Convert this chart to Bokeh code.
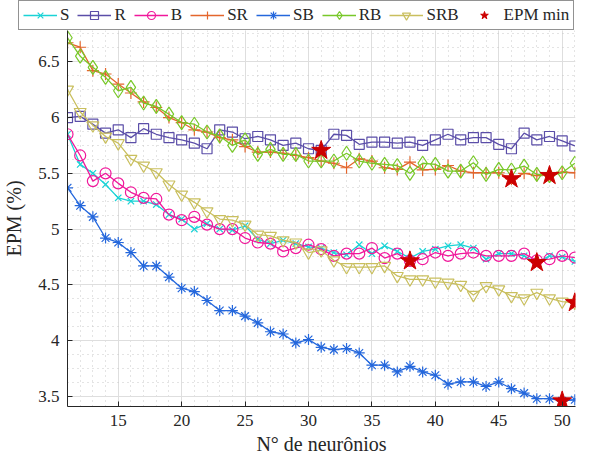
import numpy as np
from bokeh.plotting import figure
from bokeh.models import (Legend, LegendItem, SingleIntervalTicker, CustomJSTickFormatter, Range1d)
from bokeh.embed import file_html
from bokeh.resources import INLINE

neurons = list(range(11, 52))

S = [5.85, 5.58, 5.50, 5.40, 5.28, 5.25, 5.25, 5.22, 5.13, 5.09,
     5.00, 5.05, 5.00, 4.99, 5.03, 4.91, 4.87, 4.90, 4.87, 4.84,
     4.83, 4.79, 4.77, 4.86, 4.78, 4.85, 4.80, 4.74, 4.80, 4.82,
     4.85, 4.86, 4.83, 4.73, 4.78, 4.78, 4.76, 4.70, 4.76, 4.75, 4.71]
R = [6.00, 6.01, 5.94, 5.86, 5.89, 5.82, 5.90, 5.85, 5.82, 5.80,
     5.77, 5.72, 5.89, 5.87, 5.81, 5.83, 5.80, 5.75, 5.77, 5.72,
     5.705, 5.85, 5.84, 5.76, 5.78, 5.78, 5.77, 5.78, 5.75, 5.80,
     5.85, 5.80, 5.82, 5.82, 5.76, 5.72, 5.86, 5.80, 5.83, 5.79, 5.745]
B = [5.85, 5.66, 5.43, 5.50, 5.41, 5.33, 5.28, 5.27, 5.13, 5.08,
     5.11, 5.04, 5.00, 5.00, 4.92, 4.88, 4.87, 4.80, 4.83, 4.86,
     4.82, 4.76, 4.78, 4.78, 4.83, 4.74, 4.78, 4.715, 4.73, 4.79,
     4.76, 4.78, 4.79, 4.76, 4.76, 4.76, 4.78, 4.72, 4.73, 4.76, 4.745]
SR = [6.67, 6.63, 6.42, 6.39, 6.30, 6.22, 6.14, 6.09, 6.00, 5.955,
      5.89, 5.87, 5.82, 5.80, 5.74, 5.69, 5.69, 5.68, 5.66, 5.64,
      5.61, 5.59, 5.55, 5.63, 5.61, 5.55, 5.535, 5.60, 5.53, 5.535,
      5.57, 5.52, 5.505, 5.505, 5.505, 5.45, 5.50, 5.48, 5.49, 5.51, 5.505]
SB = [5.37, 5.21, 5.11, 4.92, 4.88, 4.79, 4.67, 4.67, 4.57, 4.47,
      4.44, 4.36, 4.27, 4.27, 4.22, 4.16, 4.08, 4.06, 3.98, 4.01,
      3.94, 3.92, 3.93, 3.89, 3.78, 3.78, 3.72, 3.77, 3.72, 3.69,
      3.61, 3.63, 3.63, 3.59, 3.63, 3.57, 3.53, 3.48, 3.48, 3.46, 3.47]
RB = [6.715, 6.55, 6.45, 6.36, 6.24, 6.27, 6.13, 6.10, 6.03, 5.955,
      5.94, 5.87, 5.835, 5.75, 5.80, 5.67, 5.715, 5.67, 5.67, 5.61,
      5.61, 5.61, 5.68, 5.61, 5.59, 5.58, 5.57, 5.50, 5.59, 5.58,
      5.52, 5.52, 5.595, 5.49, 5.535, 5.53, 5.565, 5.49, 5.48, 5.505, 5.59]
SRB = [6.25, 6.05, 5.93, 5.83, 5.77, 5.63, 5.57, 5.51, 5.40, 5.31,
       5.24, 5.16, 5.09, 5.08, 5.04, 4.95, 4.94, 4.90, 4.88, 4.79,
       4.81, 4.72, 4.66, 4.66, 4.66, 4.67, 4.58, 4.55, 4.55, 4.53,
       4.52, 4.50, 4.41, 4.49, 4.46, 4.40, 4.38, 4.43, 4.38, 4.35, 4.34]

series_names = ["S", "R", "B", "SR", "SB", "RB", "SRB"]
series_values = [S, R, B, SR, SB, RB, SRB]
colors = ["#1ad3d6", "#5b4ea8", "#f0189b", "#e4662c", "#2467dc", "#78c829", "#c9bf5e"]
markers = ["x", "square", "circle", "cross", "asterisk", "diamond", "inverted_triangle"]
msizes = [9, 10, 11, 12, 11, 14, 12]
star_label = "EPM min"

x_ticks_step = 5
y_ticks_step = 0.5

FONT = "Liberation Serif"
TXT = "#262626"
STAR = "#cc0000"

W = 577
LEG_H = 30
MAIN_H = 457 - LEG_H
LEFT = 62

# minima of each series
star_x = []
star_y = []
for vals in series_values:
    i = int(np.argmin(vals))
    star_x.append(neurons[i])
    star_y.append(vals[i])

# ---------------- main plot ----------------
p = figure(width=W, height=MAIN_H, output_backend="svg", toolbar_location=None,
           x_range=Range1d(11, 51.05), y_range=Range1d(3.41, 6.78),
           min_border_left=LEFT, min_border_right=2, min_border_top=0, min_border_bottom=50)
p.outline_line_color = None
p.background_fill_color = "white"

for name, vals, col, mk, ms in zip(series_names, series_values, colors, markers, msizes):
    p.line(neurons, vals, line_color=col, line_width=1.3)
    p.scatter(neurons, vals, marker=mk, size=ms, line_color=col, fill_color=None,
              line_width=1.2)

p.scatter(star_x, star_y, marker="star", size=20, fill_color=STAR,
          line_color=STAR, line_width=1)

p.xaxis.ticker = SingleIntervalTicker(interval=x_ticks_step, num_minor_ticks=5)
p.yaxis.ticker = SingleIntervalTicker(interval=y_ticks_step, num_minor_ticks=4)
p.yaxis.formatter = CustomJSTickFormatter(code="return String(Number(tick.toFixed(2)));")

for ax in [p.xaxis[0], p.yaxis[0]]:
    ax.axis_line_color = TXT
    ax.axis_line_width = 1
    ax.major_tick_line_color = TXT
    ax.major_tick_in = 5
    ax.major_tick_out = 0
    ax.minor_tick_in = 0
    ax.minor_tick_out = 0
    ax.major_label_text_font = FONT
    ax.major_label_text_font_size = "17px"
    ax.major_label_text_color = TXT
    ax.axis_label_text_font = FONT
    ax.axis_label_text_font_size = "20px"
    ax.axis_label_text_font_style = "normal"
    ax.axis_label_text_color = TXT

p.xaxis.axis_label = "N° de neurônios"
p.yaxis.axis_label = "EPM (%)"
p.xaxis.major_label_standoff = 8
p.yaxis.major_label_standoff = 8
p.xaxis.axis_label_standoff = 4
p.yaxis.axis_label_standoff = 10

p.xgrid.grid_line_color = "#dedede"
p.ygrid.grid_line_color = "#dedede"
p.xgrid.minor_grid_line_color = "#c8c8c8"
p.ygrid.minor_grid_line_color = "#c8c8c8"
p.xgrid.minor_grid_line_dash = "1 4"
p.ygrid.minor_grid_line_dash = "1 4"

# ---------------- legend strip (separate root, no frame alignment) ----------------
# the series are drawn here too, but outside this strip's visible range,
# so that only the legend is seen
lg = figure(width=W, height=LEG_H, output_backend="svg", toolbar_location=None,
            x_range=Range1d(-100, -99), y_range=Range1d(-100, -99),
            x_axis_location=None, y_axis_location=None,
            min_border_left=0, min_border_right=0, min_border_top=0, min_border_bottom=0)
lg.grid.visible = False
lg.outline_line_color = None

items = []
for name, vals, col, mk, ms in zip(series_names, series_values, colors, markers, msizes):
    ln = lg.line(neurons, vals, line_color=col, line_width=1.3)
    sc = lg.scatter(neurons, vals, marker=mk, size=ms, line_color=col, fill_color=None,
                    line_width=1.2)
    items.append(LegendItem(label=name, renderers=[ln, sc]))
st = lg.scatter(star_x, star_y, marker="star", size=20, fill_color=STAR, line_color=STAR)
items.append(LegendItem(label=star_label, renderers=[st]))

legend = Legend(items=items, orientation="horizontal", location=(18, 0),
                label_text_font=FONT, label_text_font_size="17px", label_text_color=TXT,
                glyph_width=34, glyph_height=20, label_height=20, label_standoff=3,
                spacing=8, label_width=1,
                padding=4, margin=0, border_line_color=TXT, border_line_width=1,
                background_fill_color="white", background_fill_alpha=1.0)
lg.add_layout(legend)

open("out.html", "w").write(file_html([lg, p], INLINE))
